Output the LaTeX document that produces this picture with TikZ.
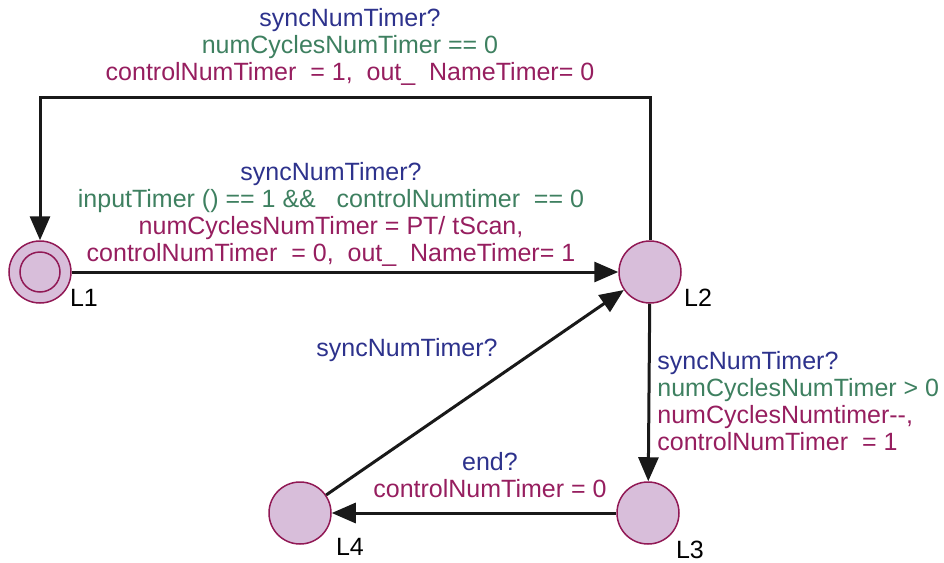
\documentclass[tikz,border=0pt]{standalone}
\usepackage{fontspec}
\setmainfont{Liberation Sans}
\usepackage{tikz}
\usetikzlibrary{arrows.meta,positioning}
\definecolor{syncblue}{RGB}{45,50,140}
\definecolor{guardgreen}{RGB}{62,128,96}
\definecolor{updmag}{RGB}{150,30,95}
\definecolor{locfill}{RGB}{216,190,218}
\definecolor{locdraw}{RGB}{145,25,85}
\newcommand{\syncl}[1]{\textcolor{syncblue}{#1}}
\newcommand{\guardl}[1]{\textcolor{guardgreen}{#1}}
\newcommand{\updl}[1]{\textcolor{updmag}{#1}}

\begin{document}
\begin{tikzpicture}[
  x=0.5pt,y=-0.5pt,
  every node/.style={font=\fontsize{12.5}{13.5}\selectfont},
  loc/.style={circle,draw=locdraw,fill=locfill,line width=0.75pt,minimum size=31pt,inner sep=0pt},
  initring/.style={circle,draw=locdraw,line width=0.75pt,minimum size=20pt,inner sep=0pt},
  lbl/.style={inner sep=0pt,align=center},
  locname/.style={inner sep=0pt,text=black},
  trans/.style={-{Triangle[length=12pt,width=10pt]},line width=1.5pt,color=black!90}
]
  \useasboundingbox (0,0) rectangle (944,563);

  \node[loc] (L1) at (40,272) {};
  \node[initring] (L1in) at (L1) {};
  \node[loc] (L2) at (650,272) {};
  \node[loc] (L3) at (648,513) {};
  \node[loc] (L4) at (300,513) {};

  \node[locname] (n1) at (84,298) {L1};
  \node[locname] (n2) at (698,298) {L2};
  \node[locname] (n3) at (690,550) {L3};
  \node[locname] (n4) at (350,547) {L4};

  \coordinate (top) at (345,97);

  \draw[trans] (L2.north) |- (top) -| (L1.north);
  \draw[trans] (L1) -- (L2);
  \draw[trans] (L4) -- (L2);
  \draw[trans] (L2) -- (L3);
  \draw[trans] (L3) -- (L4);

  % guards, syncs, updates
  \node[lbl] (lbltop) at (350,47) {\syncl{syncNumTimer?}\\
    \guardl{numCyclesNumTimer == 0}\\
    \updl{controlNumTimer\ \ = 1,\ \ out\_\ \ NameTimer= 0}};
  \node[lbl] (lblgo) at (331,214) {\syncl{syncNumTimer?}\\
    \guardl{inputTimer () == 1 \&\&\ \ \ controlNumtimer\ \ == 0}\\
    \updl{numCyclesNumTimer = PT/ tScan,}\\
    \updl{controlNumTimer\ \ = 0,\ \ out\_\ \ NameTimer= 1}};
  \node[lbl,align=left,anchor=west] (lbldown) at (657,401) {\syncl{syncNumTimer?}\\
    \guardl{numCyclesNumTimer > 0}\\
    \updl{numCyclesNumtimer-{}-,}\\
    \updl{controlNumTimer\ \ = 1}};
  \node[lbl] (lblback) at (407,350) {\syncl{syncNumTimer?}};
  \node[lbl] (lblend) at (490,475) {\syncl{end?}\\
    \updl{controlNumTimer = 0}};
\end{tikzpicture}
\end{document}
